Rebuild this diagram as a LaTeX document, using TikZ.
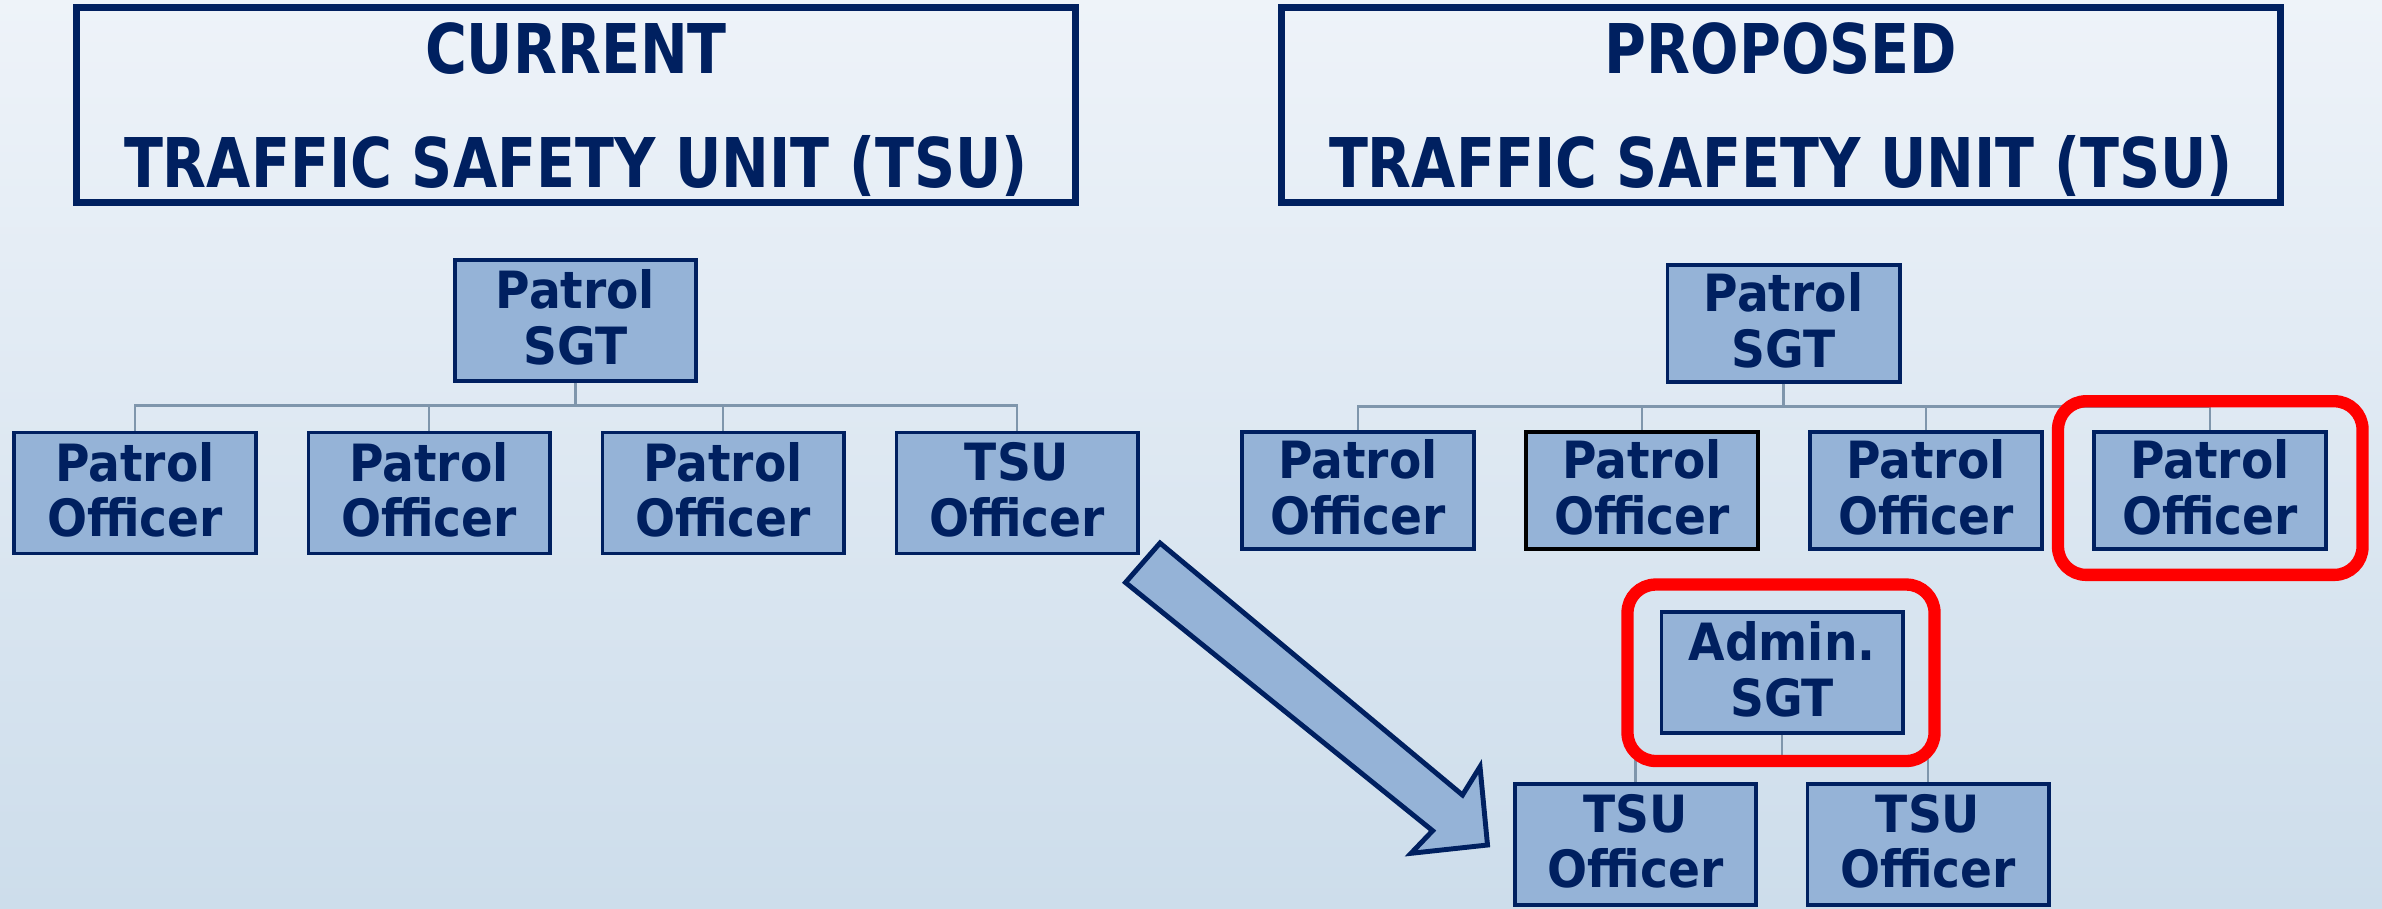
\documentclass[tikz,border=0pt]{standalone}
\usepackage{fontspec}
\setmainfont{DejaVu Sans Condensed}[BoldFont={DejaVu Sans Condensed Bold},FakeStretch=1.02]
\newfontfamily\ttlfont{DejaVu Sans Condensed}[BoldFont={DejaVu Sans Condensed Bold},FakeStretch=.925]
\definecolor{navy}{RGB}{0,32,96}
\definecolor{boxblue}{RGB}{149,179,215}
\definecolor{linkgray}{RGB}{127,150,172}
\definecolor{bgtop}{RGB}{238,243,249}
\definecolor{bgbot}{RGB}{205,221,235}
\tikzset{
  unit/.style={draw=navy,line width=1.1pt,fill=boxblue,text=navy,align=center,inner sep=0pt,text depth=.07cm,
    minimum width=2.41cm,minimum height=1.21cm,font=\fontsize{14.6}{15.8}\selectfont\bfseries},
  unitsm/.style={unit,minimum width=2.32cm,minimum height=1.17cm},
  heading/.style={draw=navy,line width=2pt,align=center,inner sep=0pt,text=navy,text depth=0pt,
    minimum width=9.98cm,minimum height=1.94cm,font=\ttlfont\fontsize{19.5}{32.6}\selectfont\bfseries},
  link/.style={draw=linkgray,line width=.7pt},
  hilite/.style={draw=red,line width=3.5pt,rounded corners=8pt},
}
\begin{document}
\begin{tikzpicture}[x=.01cm,y=-.01cm]
\shade[top color=bgtop,bottom color=bgbot](0,0)rectangle(2382,908);
\useasboundingbox(0,0)rectangle(2382,908);
% headings
\node[heading](curhd)at(576,105){CURRENT\\TRAFFIC SAFETY UNIT (TSU)};
\node[heading](prohd)at(1781,105){PROPOSED\\TRAFFIC SAFETY UNIT (TSU)};
% current unit
\node[unit](sgtL)at(575.5,320.5){Patrol\\SGT};
\foreach \i/\t in {1/Patrol,2/Patrol,3/Patrol,4/TSU}{\pgfmathsetmacro{\xx}{135+294*(\i-1)}
  \node[unit](offL\i)at(\xx,493){\t\\Officer};\draw[link](sgtL.south)--++(0,22.5)-|(offL\i.north);}
% proposed unit
\node[unitsm](sgtR)at(1783.5,323.5){Patrol\\SGT};
\foreach \i/\bd in {1/navy,2/black,3/navy,4/navy}{\pgfmathsetmacro{\xx}{1358+284*(\i-1)}
  \node[unitsm,draw=\bd](offR\i)at(\xx,490.7){Patrol\\Officer};\draw[link](sgtR.south)--++(0,22.7)-|(offR\i.north);}
\node[unit](adm)at(1782,672.5){Admin.\\SGT};
\foreach \i/\xx in {1/1635.5,2/1928}{
  \node[unit](tsu\i)at(\xx,844.5){TSU\\Officer};\draw[link](adm.south)--++(0,24)-|(tsu\i.north);}
% changes
\draw[hilite]([shift={(-34,-29)}]offR4.north west)rectangle([shift={(34.5,23.7)}]offR4.south east);
\draw[hilite]([shift={(-32,-25.5)}]adm.north west)rectangle([shift={(30,26)}]adm.south east);
\draw[navy,line width=1.4pt,fill=boxblue,line join=miter](1125.5,582.5)--(1160,543)--(1462.5,795)--(1480,766.7)--(1487.5,845)--(1411,853.3)--(1432.6,830.7)--cycle;
\end{tikzpicture}
\end{document}
